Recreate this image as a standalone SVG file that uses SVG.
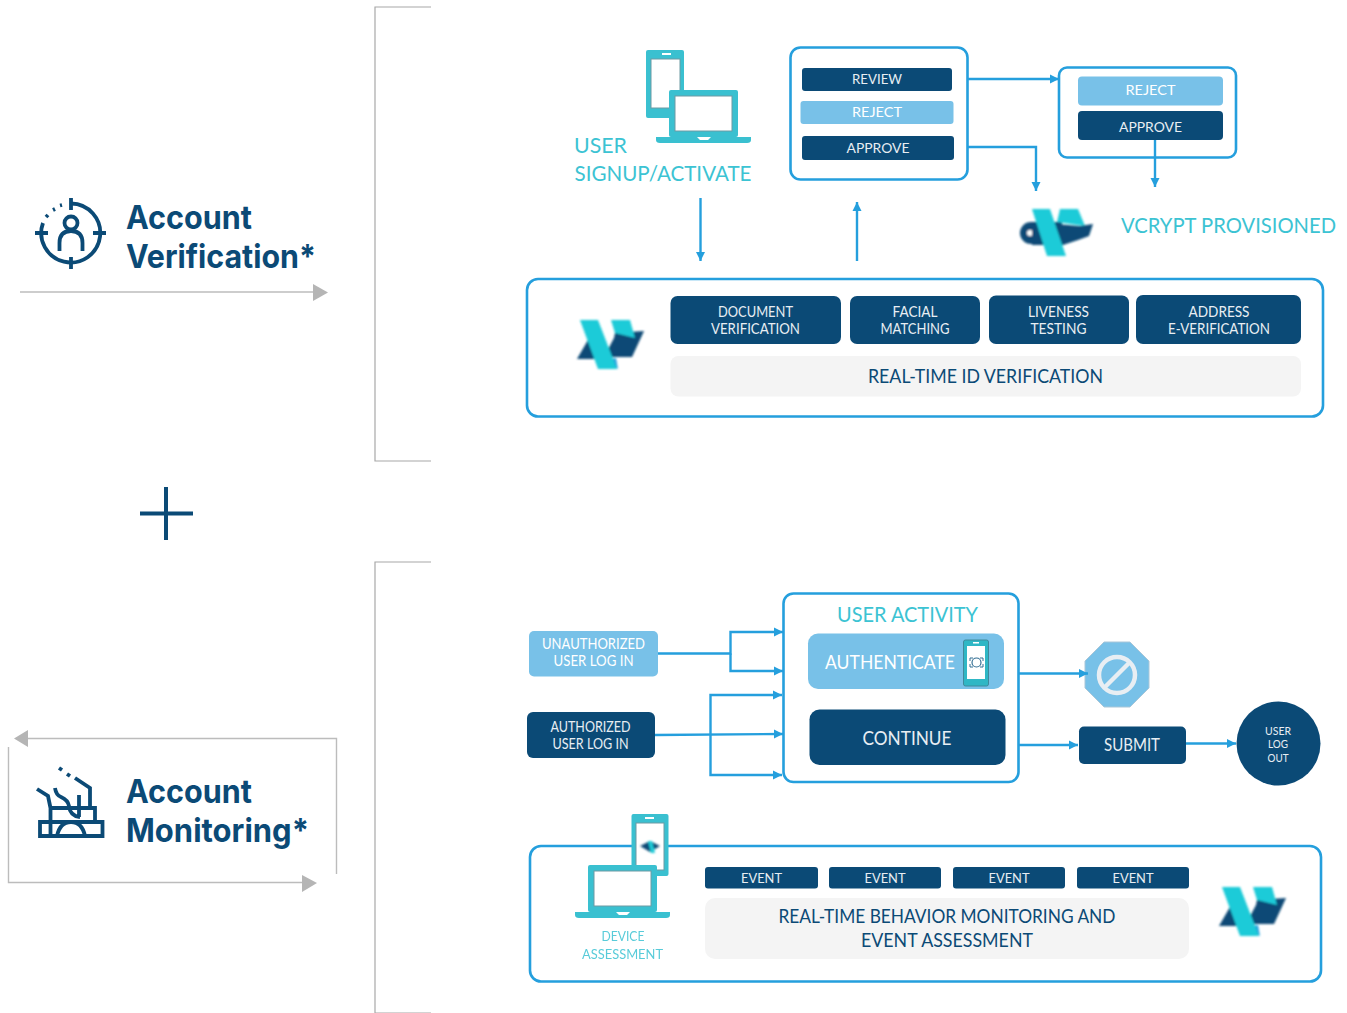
<svg xmlns="http://www.w3.org/2000/svg" width="1347" height="1013" viewBox="0 0 1347 1013">
<style>
text{font-family:"Lato","Open Sans","Liberation Sans",sans-serif;text-anchor:middle}
.w{fill:#fff}.e{fill:#e8eef3}
.n{fill:#0b4a76}.l{fill:#78c1e8}.g{fill:#f4f4f4}
.box{fill:#fff;stroke:#259fdd;stroke-width:2.6}
.c{fill:none;stroke:#259fdd;stroke-width:2.4}
.t{fill:#3cc3d3}
.h{font-family:"Inter","Liberation Sans",sans-serif;font-weight:700;fill:#0b4a76;text-anchor:start}
.gl{fill:none;stroke:#bcbcbc;stroke-width:1.4}
.gh{fill:#b5b5b5}
.ic{fill:none;stroke:#0b4a76;stroke-width:3.8}
.d{fill:#3ac0d0}
.s{fill:#fff;stroke:#6d9aa3;stroke-width:1}
</style>
<defs>
<filter id="b" x="-10%" y="-10%" width="120%" height="120%"><feGaussianBlur stdDeviation="0.8"/></filter>
<marker id="a" markerUnits="userSpaceOnUse" markerWidth="10" markerHeight="10" refX="9" refY="5" orient="auto"><path d="M0 0.500L9 5L0 9.500z" fill="#259fdd"/></marker>
<symbol id="logo" width="70" height="54" viewBox="0 0 70 54" overflow="visible">
<g filter="url(#b)">
<path d="M14 13L-1 39H22zM37 13L66 11L54 37H26L36 18z" fill="#0b4a76"/>
<path d="M28 40L40 49L38 38z" fill="#259fdd"/>
<path d="M2 0H20L39 49H20zM33 0H52L57 18L37 13z" fill="#1ecbd8"/>
</g>
</symbol>
<symbol id="laptop" width="96" height="58" viewBox="0 0 96 58" overflow="visible">
<rect x="13" y="0" width="69" height="47" rx="2" class="d"/>
<rect x="19" y="6" width="57" height="35" class="s"/>
<path d="M0 47H41L44 50H52L55 47H95V50Q95 53 91 53H4Q0 53 0 50z" class="d"/>
</symbol>
</defs>

<g id="side-labels">
<g id="account-verification">
<path d="M71 203.500A29.500 29.500 0 1 1 43 223" class="ic"/>
<path d="M46 217L48 215M53 210L55 209M60 205.500L62 205" class="ic"/>
<path d="M71 198V210M71 257V269M35 233H48M93 233H106" class="ic" stroke-width="4.500"/>
<circle cx="71" cy="223" r="6.500" class="ic"/>
<path d="M59.500 251V243Q59.500 231 71 231Q82.500 231 82.500 243V251" class="ic"/>
<text class="h" x="126" y="229" font-size="33" textLength="126" lengthAdjust="spacingAndGlyphs">Account</text>
<text class="h" x="126" y="268" font-size="33" textLength="190" lengthAdjust="spacingAndGlyphs">Verification*</text>
<path d="M20 292H314" class="gl"/><path d="M313 284L328 292.500L313 301z" class="gh"/>
</g>
<g id="plus"><path d="M166 487V540M140 513.500H193" fill="none" stroke="#0b4a76" stroke-width="4"/></g>
<g id="account-monitoring">
<path d="M27 738.500H336.500V874M8.500 747V882.500H304" class="gl"/>
<path d="M28 730V747L14 738.500zM302 875L317 883L302 892z" class="gh"/>
<path d="M37 789L48 796L50.500 808H95V821M75 778L90 788V808M55 788Q56 795 61 797Q68 800 69 806Q70 816 80 817M79 795V817M50.500 808V836M40 836V822H102.500V836zM57 836Q60 822 71 822Q82 822 85 836" class="ic"/>
<path d="M59 768L62 770M67 774L70 776" class="ic"/>
<text class="h" x="126" y="803" font-size="33" textLength="126" lengthAdjust="spacingAndGlyphs">Account</text>
<text class="h" x="126" y="842" font-size="33" textLength="183" lengthAdjust="spacingAndGlyphs">Monitoring*</text>
</g>
<g id="brackets"><path d="M431 7H375V461H431M431 562H375V1013H431" fill="none" stroke="#a8a8a8" stroke-width="1.200"/></g>
</g>

<g id="user-signup">
<rect x="646" y="50" width="38" height="68" rx="2" class="d"/>
<rect x="651" y="59" width="29" height="49" class="s"/>
<rect x="662" y="53" width="9" height="2" fill="#fff"/>
<use href="#laptop" x="656" y="90"/>
<text class="t" font-size="22" x="600.500" y="153" textLength="53" lengthAdjust="spacingAndGlyphs">USER</text>
<text class="t" font-size="22" x="663" y="181" textLength="177" lengthAdjust="spacingAndGlyphs">SIGNUP/ACTIVATE</text>
</g>

<g id="review-box">
<rect x="790.500" y="47.500" width="177" height="132" rx="10" class="box"/>
<rect x="802" y="68" width="150" height="23" rx="3" class="n"/>
<text class="e" font-size="14" x="877" y="84" textLength="50" lengthAdjust="spacingAndGlyphs">REVIEW</text>
<rect x="800.500" y="101" width="153" height="23" rx="3" class="l"/>
<text class="w" font-size="14" x="877" y="117" textLength="50" lengthAdjust="spacingAndGlyphs">REJECT</text>
<rect x="802" y="136" width="152" height="24" rx="3" class="n"/>
<text class="e" font-size="14" x="878" y="153" textLength="63" lengthAdjust="spacingAndGlyphs">APPROVE</text>
</g>

<g id="decision-box">
<rect x="1059" y="67.500" width="177" height="90" rx="8" class="box"/>
<rect x="1078" y="76.500" width="145" height="29" rx="4" class="l"/>
<text class="w" font-size="14" x="1150.500" y="95" textLength="50" lengthAdjust="spacingAndGlyphs">REJECT</text>
<rect x="1078" y="111" width="145" height="29" rx="4" class="n"/>
<text class="e" font-size="14" x="1150.500" y="132" textLength="63" lengthAdjust="spacingAndGlyphs">APPROVE</text>
</g>

<g id="vcrypt">
<g filter="url(#b)">
<circle cx="1031" cy="233" r="11" fill="#0b4a76"/><circle cx="1030" cy="233" r="3" fill="#fff"/>
<path d="M1032 222H1062V245H1032z" fill="#0b4a76"/>
<path d="M1060 209H1078L1085 226L1057 222z" fill="#1ecbd8"/>
<path d="M1056 224L1080 226L1093 224L1089 236L1078 240L1060 246z" fill="#0b4a76"/>
<path d="M1032 209H1050L1066 256H1047z" fill="#1ecbd8"/>
</g>
<text class="t" font-size="21" x="1228.500" y="233" textLength="215" lengthAdjust="spacingAndGlyphs">VCRYPT PROVISIONED</text>
</g>

<g id="realtime-id">
<rect x="527" y="279" width="796" height="137.500" rx="11" class="box"/>
<use href="#logo" x="578" y="320"/>
<rect x="670.500" y="296" width="170.500" height="48" rx="7" class="n"/>
<text class="e" font-size="14.500" x="755.500" y="317" textLength="75" lengthAdjust="spacingAndGlyphs">DOCUMENT</text>
<text class="e" font-size="14.500" x="755.500" y="334" textLength="89" lengthAdjust="spacingAndGlyphs">VERIFICATION</text>
<rect x="850" y="296" width="130" height="48" rx="7" class="n"/>
<text class="e" font-size="14.500" x="915" y="317" textLength="45" lengthAdjust="spacingAndGlyphs">FACIAL</text>
<text class="e" font-size="14.500" x="915" y="334" textLength="69" lengthAdjust="spacingAndGlyphs">MATCHING</text>
<rect x="989" y="295.500" width="140" height="48.500" rx="7" class="n"/>
<text class="e" font-size="14.500" x="1058.500" y="317" textLength="61" lengthAdjust="spacingAndGlyphs">LIVENESS</text>
<text class="e" font-size="14.500" x="1058.500" y="334" textLength="56" lengthAdjust="spacingAndGlyphs">TESTING</text>
<rect x="1136" y="295" width="165" height="49" rx="7" class="n"/>
<text class="e" font-size="14.500" x="1219" y="317" textLength="61" lengthAdjust="spacingAndGlyphs">ADDRESS</text>
<text class="e" font-size="14.500" x="1219" y="334" textLength="102" lengthAdjust="spacingAndGlyphs">E-VERIFICATION</text>
<rect x="670.500" y="356" width="630.500" height="40.500" rx="8" class="g"/>
<text class="n" font-size="19" x="985.500" y="383" textLength="235" lengthAdjust="spacingAndGlyphs">REAL-TIME ID VERIFICATION</text>
</g>

<g id="unauthorized">
<rect x="529" y="631" width="129" height="45.500" rx="5" class="l"/>
<text class="w" font-size="14.500" x="593.500" y="649" textLength="103" lengthAdjust="spacingAndGlyphs">UNAUTHORIZED</text>
<text class="w" font-size="14.500" x="593.500" y="666" textLength="80" lengthAdjust="spacingAndGlyphs">USER LOG IN</text>
</g>
<g id="authorized">
<rect x="527" y="712" width="128" height="46" rx="6" class="n"/>
<text class="e" font-size="14.500" x="590.500" y="732" textLength="80" lengthAdjust="spacingAndGlyphs">AUTHORIZED</text>
<text class="e" font-size="14.500" x="590.500" y="749" textLength="76" lengthAdjust="spacingAndGlyphs">USER LOG IN</text>
</g>

<g id="user-activity">
<rect x="783.500" y="593.500" width="235" height="188.500" rx="10" class="box"/>
<text class="t" font-size="22" x="907.500" y="622" textLength="141" lengthAdjust="spacingAndGlyphs">USER ACTIVITY</text>
<rect x="808" y="633.500" width="196" height="55.500" rx="10" class="l"/>
<text class="w" font-size="20" x="890" y="669" textLength="130" lengthAdjust="spacingAndGlyphs">AUTHENTICATE</text>
<rect x="963.500" y="640" width="25" height="46" rx="2" fill="#2fb7c5" stroke="#3f8a9b"/>
<rect x="967" y="646" width="18" height="33" fill="#fff"/>
<rect x="973" y="642" width="6" height="1.500" fill="#fff"/>
<circle cx="976.500" cy="662.500" r="4.500" fill="none" stroke="#336f94" stroke-width="1.200"/>
<path d="M970 661V658H973M980 658H983V661M970 664V667H973M980 667H983V664" fill="none" stroke="#336f94" stroke-width="1"/>
<rect x="809.500" y="709.500" width="196" height="55.500" rx="10" class="n"/>
<text class="e" font-size="20" x="907" y="745" textLength="89" lengthAdjust="spacingAndGlyphs">CONTINUE</text>
</g>

<g id="blocked">
<path d="M1104 642H1130L1149 661V688L1130 707H1104L1085 688V661z" fill="#78c1e8" stroke="#a9c6d8" stroke-width="1"/>
<circle cx="1117" cy="675" r="18" fill="none" stroke="#e8eef3" stroke-width="4.500"/>
<path d="M1105 687L1129 663" fill="none" stroke="#e8eef3" stroke-width="4.500"/>
</g>
<g id="submit">
<rect x="1079" y="726.500" width="107" height="37.500" rx="5" class="n"/>
<text class="e" font-size="16.500" x="1132" y="751" textLength="56" lengthAdjust="spacingAndGlyphs">SUBMIT</text>
</g>
<g id="log-out">
<circle cx="1278.500" cy="743.500" r="42" class="n"/>
<text class="e" font-size="11" x="1278" y="735" textLength="26" lengthAdjust="spacingAndGlyphs">USER</text>
<text class="e" font-size="11" x="1278" y="748" textLength="20" lengthAdjust="spacingAndGlyphs">LOG</text>
<text class="e" font-size="11" x="1278" y="762" textLength="21" lengthAdjust="spacingAndGlyphs">OUT</text>
</g>

<g id="realtime-behavior">
<rect x="530" y="846" width="791" height="135.500" rx="11" class="box"/>
<rect x="631.500" y="814" width="37" height="62" rx="2" class="d"/>
<rect x="636" y="823" width="28" height="47" class="s"/>
<rect x="645" y="817" width="9" height="2" fill="#fff"/>
<g filter="url(#b)"><path d="M640 846L650 841L660 846L650 852z" fill="#0b4a76"/><path d="M648 841L652 841L655 853L651 853z" fill="#1ecbd8"/></g>
<use href="#laptop" x="575" y="865"/>
<text class="t" font-size="13.500" x="623" y="941" textLength="43" lengthAdjust="spacingAndGlyphs" opacity=".85">DEVICE</text>
<text class="t" font-size="13.500" x="622.500" y="959" textLength="81" lengthAdjust="spacingAndGlyphs" opacity=".85">ASSESSMENT</text>
<rect x="705" y="867" width="113" height="21.500" rx="3" class="n"/>
<text class="e" font-size="14" x="761.500" y="883" textLength="41" lengthAdjust="spacingAndGlyphs">EVENT</text>
<rect x="829" y="867" width="112" height="21.500" rx="3" class="n"/>
<text class="e" font-size="14" x="885" y="883" textLength="41" lengthAdjust="spacingAndGlyphs">EVENT</text>
<rect x="953" y="867" width="112" height="21.500" rx="3" class="n"/>
<text class="e" font-size="14" x="1009" y="883" textLength="41" lengthAdjust="spacingAndGlyphs">EVENT</text>
<rect x="1077" y="867" width="112" height="21.500" rx="3" class="n"/>
<text class="e" font-size="14" x="1133" y="883" textLength="41" lengthAdjust="spacingAndGlyphs">EVENT</text>
<rect x="705" y="898" width="484" height="61" rx="10" class="g"/>
<text class="n" font-size="19" x="947" y="923" textLength="337" lengthAdjust="spacingAndGlyphs">REAL-TIME BEHAVIOR MONITORING AND</text>
<text class="n" font-size="19" x="947" y="947" textLength="172" lengthAdjust="spacingAndGlyphs">EVENT ASSESSMENT</text>
<use href="#logo" x="1220" y="887"/>
</g>

<g id="connectors">
<path d="M700.500 198V261" class="c" marker-end="url(#a)"/>
<path d="M857 261V202" class="c" marker-end="url(#a)"/>
<path d="M968 79H1059" class="c" marker-end="url(#a)"/>
<path d="M968 147H1036V191" class="c" marker-end="url(#a)"/>
<path d="M1155 140V187" class="c" marker-end="url(#a)"/>
<path d="M658 653.500H730.500V632H783" class="c" marker-end="url(#a)"/>
<path d="M730.500 653.500V671H783" class="c" marker-end="url(#a)"/>
<path d="M655 735L783 734" class="c" marker-end="url(#a)"/>
<path d="M710.500 735V695H782" class="c" marker-end="url(#a)"/>
<path d="M710.500 735V775H782" class="c" marker-end="url(#a)"/>
<path d="M1019 673.500H1088" class="c" marker-end="url(#a)"/>
<path d="M1019 745H1078" class="c" marker-end="url(#a)"/>
<path d="M1186 743.500H1236" class="c" marker-end="url(#a)"/>
</g>
</svg>
